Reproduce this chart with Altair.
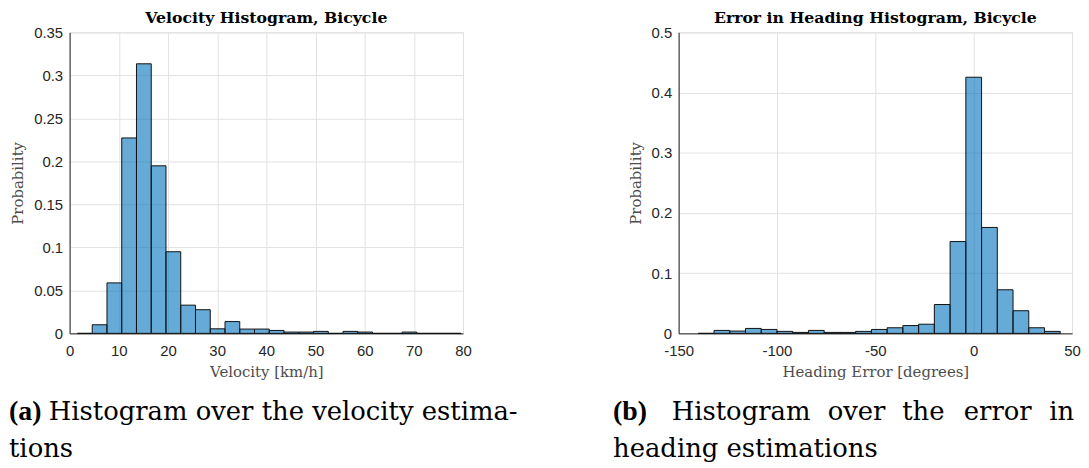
import altair as alt
import pandas as pd

# ---------------- data ----------------
vel_edges = [1.6, 4.6, 7.6, 10.6, 13.6, 16.6, 19.6, 22.6, 25.6, 28.6, 31.6, 34.6, 37.6,
             40.6, 43.6, 46.6, 49.6, 52.6, 55.6, 58.6, 61.6, 64.6, 67.6, 70.6, 73.6, 76.6, 79.6]
vel_prob = [0.0, 0.010, 0.0587, 0.2272, 0.3134, 0.1948, 0.0949, 0.0328, 0.0275, 0.0053,
            0.0137, 0.005, 0.005, 0.0034, 0.0015, 0.0015, 0.0023, 0.0, 0.0023, 0.0015,
            0.0, 0.0, 0.0015, 0.0, 0.0, 0.0]

head_edges = [-140, -132, -124, -116, -108, -100, -92, -84, -76, -68, -60, -52, -44,
              -36, -28, -20, -12, -4, 4, 12, 20, 28, 36, 44]
head_prob = [0.0, 0.0049, 0.0038, 0.0082, 0.0065, 0.0033, 0.0016, 0.0049, 0.0016, 0.0016,
             0.0033, 0.0065, 0.0093, 0.013, 0.0152, 0.0479, 0.1525, 0.4254, 0.1759, 0.0724,
             0.0376, 0.0093, 0.0033]

vel_xticks = [0, 10, 20, 30, 40, 50, 60, 70, 80]
vel_yticks = [0, 0.05, 0.1, 0.15, 0.2, 0.25, 0.3, 0.35]
head_xticks = [-150, -100, -50, 0, 50]
head_yticks = [0, 0.1, 0.2, 0.3, 0.4, 0.5]

titles = ["Velocity Histogram, Bicycle", "Error in Heading Histogram, Bicycle"]
xtitles = ["Velocity [km/h]", "Heading Error [degrees]"]
ytitle = "Probability"

W, H = 396, 303
CAP_FONT = "DejaVu Serif"
CAP_SIZE = 26
L1, L2 = 390, 427


def txt(s, x, y, bold=False, size=CAP_SIZE, align="left", font=CAP_FONT):
    return alt.Chart(pd.DataFrame({"t": [s]})).mark_text(
        align=align, baseline="alphabetic", font=font, fontSize=size,
        fontWeight="bold" if bold else "normal", color="black"
    ).encode(x=alt.value(x), y=alt.value(y), text="t:N")


def label(s, x, y):
    return txt(s, x, y, bold=True, size=28, font="Liberation Serif")


def panel(edges, probs, xdom, xvals, ydom, yvals, title, xtitle, captions):
    df = pd.DataFrame({"lo": edges[:-1], "hi": edges[1:], "p": probs})
    bars = alt.Chart(df).mark_rect(
        fill="#0072bd", fillOpacity=0.6, stroke="#111111", strokeWidth=1
    ).encode(
        x=alt.X("lo:Q", scale=alt.Scale(domain=xdom, nice=False, zero=False),
                axis=alt.Axis(values=xvals, title=xtitle, labelExpr="'' + datum.value",
                              labelFlush=False, labelOverlap=False, labelPadding=10,
                              titlePadding=6)),
        x2="hi:Q",
        y=alt.Y("p:Q", scale=alt.Scale(domain=ydom, nice=False),
                axis=alt.Axis(values=yvals, title=ytitle, format="~g", labelPadding=7,
                              titlePadding=8)),
        y2=alt.datum(0),
    )
    head = txt(title, W / 2, -9, bold=True, size=15.8, align="center")
    return alt.layer(bars, head, *captions).properties(width=W, height=H)


left = panel(vel_edges, vel_prob, [0, 80], vel_xticks, [0, 0.35], vel_yticks,
             titles[0], xtitles[0],
             [label("(a)", -61, L1),
              txt("Histogram over the velocity estima-", -21, L1),
              txt("tions", -61, L2)])

right = panel(head_edges, head_prob, [-150, 50], head_xticks, [0, 0.5], head_yticks,
              titles[1], xtitles[1],
              [label("(b)", -66, L1),
               txt("Histogram", -7, L1),
               txt("over", 150, L1),
               txt("the", 225, L1),
               txt("error", 287, L1),
               txt("in", 398, L1, align="right"),
               txt("heading estimations", -66, L2)])

chart = alt.hconcat(left, right, spacing=217, bounds="flush",
                    padding={"left": 0, "top": 0, "right": 0, "bottom": 0}).configure_view(
    stroke="#d9d9d9"
).configure_axis(
    grid=True, gridColor="#e2e2e2", domainColor="#262626", ticks=False,
    labelFont="Liberation Sans", labelFontSize=15, labelColor="#262626",
    titleFont="DejaVu Serif", titleFontSize=15, titleColor="#4d4d4d",
    titleFontWeight="normal"
)

chart.save("out.html", embed_options={"renderer": "svg", "actions": False})
